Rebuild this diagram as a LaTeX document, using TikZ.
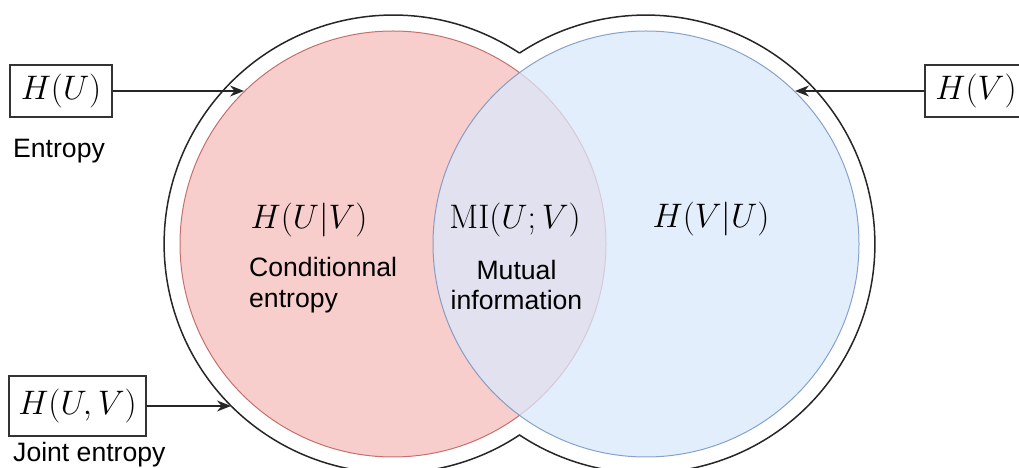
\RequirePackage{fix-cm}
\documentclass[tikz,border=0pt]{standalone}
\usepackage{fontspec}
\setsansfont{Liberation Sans}
\usetikzlibrary{arrows.meta}
\definecolor{redfill}{HTML}{F8CECC}
\definecolor{redline}{HTML}{B85450}
\definecolor{bluefill}{HTML}{DAE8FC}
\definecolor{blueline}{HTML}{6C8EBF}
\tikzset{
  mathbox/.style={draw=black!80,line width=1.2pt,inner sep=0pt,minimum height=52pt,font=\fontsize{34}{40}\selectfont},
  mathlabel/.style={inner sep=0pt,font=\fontsize{34}{40}\selectfont},
  txt/.style={inner sep=0pt,font=\sffamily\fontsize{26.6}{30.5}\selectfont},
  link/.style={draw=black!85,line width=1.3pt,-{Stealth[length=14pt,width=11pt]}}
}
\begin{document}
\begin{tikzpicture}[x=1pt,y=1pt]
		\useasboundingbox (0,0) rectangle (1019,468);
		% the two sets
		\fill[redfill] (393,224) circle(213);
		\draw[redline,line width=1pt,draw opacity=0.8] (393,224) circle(213);
		\fill[bluefill,fill opacity=0.75] (646,224) circle(213);
		\draw[blueline,line width=1pt,draw opacity=0.8] (646,224) circle(213);
		% joint outline
		\draw[black!85,line width=1.5pt] (519.5,414.9) arc[start angle=56.5,end angle=303.5,radius=229]
			arc[start angle=236.5,end angle=483.5,radius=229];
		% labels in the sets
		\node[mathlabel] (hcondu) at (309,248) {$H(U|V)$};
		\node[mathlabel] (mi) at (515,248) {$\mathrm{MI}(U;V)$};
		\node[mathlabel] (hcondv) at (711,249) {$H(V|U)$};
		\node[txt,align=left,anchor=west] (condtxt) at (249,183) {Conditionnal\\entropy};
		\node[txt,align=center] (mitxt) at (516.5,183) {Mutual\\information};
		% boxes
		\node[mathbox,minimum width=102pt] (hu) at (61,377) {$H(U)$};
		\node[txt,anchor=base west] (enttxt) at (13,310) {Entropy};
		\node[mathbox,minimum width=137pt,minimum height=60pt] (huv) at (77.5,62) {$H(U,V)$};
		\node[txt,anchor=base west] (jointtxt) at (13,6) {Joint entropy};
		\node[mathbox,minimum width=102pt] (hv) at (976,377) {$H(V)$};
		% arrows
		\coordinate (tipu) at (244,377);
		\coordinate (tipuv) at (231,62);
		\coordinate (tipv) at (795,377);
		\draw[link] (hu) -- (tipu);
		\draw[link] (huv) -- (tipuv);
		\draw[link] (hv) -- (tipv);
	\end{tikzpicture}
\end{document}
